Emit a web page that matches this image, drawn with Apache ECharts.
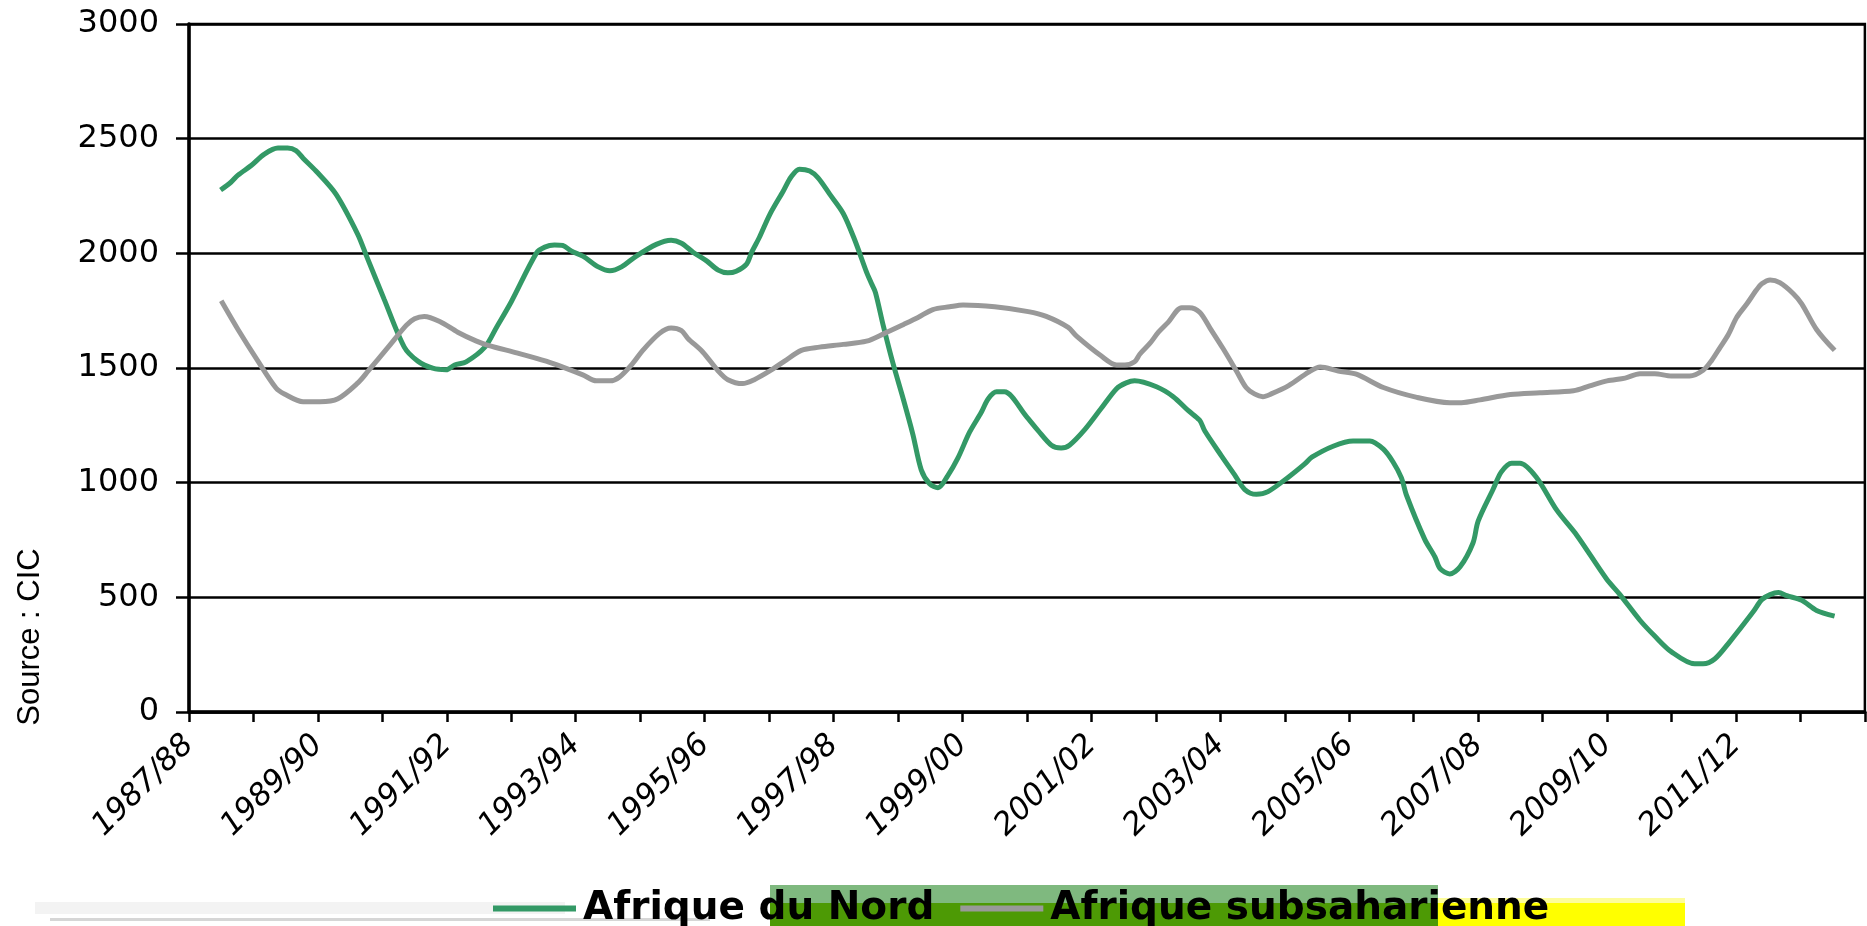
<!DOCTYPE html>
<html>
<head>
<meta charset="utf-8">
<script src="https://cdn.jsdelivr.net/npm/echarts@6/dist/echarts.min.js"></script>
<style>
  html, body { margin: 0; padding: 0; background: #fff; }
  #chart { width: 1867px; height: 926px; }
</style>
</head>
<body>
<div id="chart"></div>
<script>
// x = years since start of 1987/88 season, one tick per season
const tickLabels = ['1987/88', '1989/90', '1991/92', '1993/94', '1995/96', '1997/98', '1999/00',
    '2001/02', '2003/04', '2005/06', '2007/08', '2009/10', '2011/12'];

const nordPoints = [
    [0.49, 2276], [0.65, 2310], [0.76, 2341], [0.97, 2384], [1.17, 2433], [1.38, 2459], [1.53, 2459],
    [1.66, 2448], [1.77, 2415], [1.97, 2359], [2.28, 2258], [2.62, 2082], [2.75, 1991], [3.03, 1798],
    [3.34, 1591], [3.55, 1530], [3.78, 1499], [3.99, 1492], [4.12, 1513], [4.30, 1527], [4.59, 1591],
    [4.77, 1677], [5.0, 1789], [5.39, 2001], [5.52, 2027], [5.67, 2036], [5.80, 2034], [5.93, 2010],
    [6.11, 1988], [6.35, 1941], [6.53, 1924], [6.71, 1941], [6.94, 1988], [7.25, 2039], [7.48, 2057],
    [7.64, 2044], [7.82, 2005], [8.03, 1967], [8.21, 1927], [8.36, 1915], [8.49, 1922], [8.65, 1953],
    [8.73, 2005], [8.85, 2070], [9.01, 2169], [9.22, 2272], [9.34, 2333], [9.47, 2367], [9.63, 2359],
    [9.76, 2329], [9.94, 2258], [10.15, 2174], [10.33, 2057], [10.51, 1919], [10.59, 1867], [10.65, 1829],
    [10.77, 1686], [10.92, 1522], [11.08, 1366], [11.23, 1211], [11.36, 1056], [11.49, 995], [11.62, 978],
    [11.77, 1030], [11.93, 1108], [12.11, 1220], [12.29, 1306], [12.40, 1366], [12.53, 1396], [12.65, 1396],
    [12.99, 1289], [13.17, 1228], [13.38, 1163], [13.53, 1151], [13.66, 1163], [13.90, 1232], [14.15, 1323],
    [14.39, 1410], [14.54, 1435], [14.67, 1444], [15.01, 1418], [15.27, 1375], [15.50, 1315], [15.68, 1272],
    [15.76, 1225], [16.02, 1116], [16.22, 1035], [16.38, 970], [16.56, 949], [16.74, 961], [17.06, 1025],
    [17.31, 1082], [17.42, 1111], [17.75, 1159], [18.06, 1182], [18.32, 1182], [18.53, 1146], [18.68, 1090],
    [18.81, 1021], [18.89, 944], [19.17, 754], [19.33, 676], [19.41, 625], [19.56, 602], [19.72, 633],
    [19.92, 737], [20.0, 832], [20.23, 970], [20.36, 1047], [20.52, 1085], [20.65, 1085], [20.90, 1025],
    [21.22, 880], [21.53, 771], [21.99, 581], [22.20, 512], [22.51, 400], [22.74, 331], [23.0, 262],
    [23.36, 210], [23.49, 210], [23.67, 231], [23.90, 305], [24.27, 438], [24.40, 490], [24.53, 512],
    [24.66, 521], [24.79, 507], [25.02, 487], [25.25, 443], [25.53, 418]
];

const subPoints = [
    [0.50, 1793], [0.76, 1668], [1.07, 1530], [1.35, 1413], [1.48, 1387], [1.77, 1353], [2.03, 1353],
    [2.31, 1366], [2.62, 1435], [2.78, 1487], [3.09, 1591], [3.37, 1686], [3.50, 1715], [3.65, 1725],
    [3.89, 1703], [4.17, 1656], [4.46, 1617], [4.64, 1599], [5.10, 1565], [5.54, 1530], [5.80, 1504],
    [6.11, 1470], [6.32, 1444], [6.53, 1444], [6.68, 1461], [6.89, 1522], [7.04, 1577], [7.30, 1651],
    [7.48, 1674], [7.64, 1663], [7.74, 1629], [7.97, 1570], [8.21, 1487], [8.36, 1449], [8.59, 1432],
    [8.77, 1449], [9.01, 1487], [9.24, 1530], [9.50, 1577], [9.78, 1591], [10.15, 1603], [10.51, 1617],
    [10.79, 1651], [11.08, 1689], [11.31, 1720], [11.54, 1755], [11.80, 1767], [12.01, 1775], [12.50, 1767],
    [13.02, 1746], [13.30, 1725], [13.64, 1677], [13.77, 1639], [14.15, 1553], [14.39, 1513], [14.52, 1513],
    [14.67, 1527], [14.75, 1560], [14.91, 1608], [15.04, 1656], [15.19, 1699], [15.40, 1763], [15.52, 1763],
    [15.68, 1743], [15.84, 1674], [16.04, 1586], [16.25, 1487], [16.40, 1415], [16.53, 1387], [16.66, 1375],
    [16.79, 1387], [17.06, 1423], [17.37, 1482], [17.55, 1504], [17.83, 1487], [18.11, 1473], [18.53, 1415],
    [19.05, 1372], [19.56, 1349], [19.74, 1349], [20.03, 1361], [20.50, 1384], [20.96, 1392], [21.48, 1401],
    [21.73, 1422], [22.0, 1444], [22.28, 1456], [22.51, 1475], [22.74, 1475], [23.0, 1465], [23.28, 1465],
    [23.49, 1490], [23.62, 1532], [23.75, 1588], [23.88, 1645], [24.01, 1720], [24.17, 1780], [24.32, 1841],
    [24.40, 1867], [24.53, 1884], [24.68, 1872], [24.89, 1824], [25.02, 1780], [25.25, 1668], [25.53, 1577]
];

const chart = echarts.init(document.getElementById('chart'));

const option = {
    animation: false,
    color: ['#339966', '#999999'],
    grid: {
        left: 189,
        right: 2,
        top: 24,
        bottom: 214,
        show: true,
        borderColor: '#000',
        borderWidth: 2.5
    },
    legend: {
        left: 488,
        top: 884,
        itemWidth: 83,
        itemHeight: 6,
        itemGap: 26,
        icon: 'rect',
        textStyle: {
            fontFamily: 'DejaVu Sans',
            fontWeight: 'bold',
            fontSize: 39,
            color: '#000',
            padding: [0, 0, 0, 2]
        },
        data: ['Afrique du Nord', 'Afrique subsaharienne'],
        z: 5
    },
    xAxis: {
        type: 'value',
        min: 0,
        max: 26,
        interval: 1,
        splitLine: { show: false },
        axisLine: { show: true, onZero: false, lineStyle: { color: '#000', width: 3.5 } },
        axisTick: { show: true, length: 10, lineStyle: { color: '#000', width: 2.5 } },
        axisLabel: {
            rotate: 45,
            margin: 28,
            fontFamily: 'DejaVu Sans',
            fontStyle: 'italic',
            fontSize: 31,
            color: '#000',
            showMaxLabel: true,
            formatter: function (v) {
                if (v % 2 !== 0) return '';
                return tickLabels[v / 2] || '';
            }
        }
    },
    yAxis: {
        type: 'value',
        min: 0,
        max: 3000,
        interval: 500,
        axisLine: { show: true, lineStyle: { color: '#000', width: 3.5 } },
        axisTick: { show: true, length: 13, lineStyle: { color: '#000', width: 2.5 } },
        splitLine: { show: true, lineStyle: { color: '#000', width: 2.5 } },
        axisLabel: {
            margin: 30,
            fontFamily: 'DejaVu Sans',
            fontSize: 32,
            color: '#000',
            formatter: function (v) { return String(v); }
        }
    },
    graphic: [
        // background blocks behind the legend
        { type: 'rect', z: 0, shape: { x: 770, y: 885, width: 668, height: 18 }, style: { fill: '#7fb97f' } },
        { type: 'rect', z: 0, shape: { x: 770, y: 903, width: 668, height: 23 }, style: { fill: '#4d9a05' } },
        { type: 'rect', z: 0, shape: { x: 1438, y: 898, width: 247, height: 5 }, style: { fill: '#fdfd9a' } },
        { type: 'rect', z: 0, shape: { x: 1438, y: 903, width: 247, height: 23 }, style: { fill: '#ffff00' } },
        { type: 'rect', z: 0, shape: { x: 35, y: 902, width: 530, height: 12 }, style: { fill: '#f3f3f3' } },
        { type: 'rect', z: 0, shape: { x: 50, y: 918, width: 660, height: 3 }, style: { fill: '#d6d6d6' } },
        {
            type: 'text',
            x: 30,
            y: 637,
            rotation: Math.PI / 2,
            style: {
                text: 'Source : CIC',
                fontFamily: 'Liberation Sans',
                fontSize: 31,
                fill: '#000',
                textAlign: 'center',
                textVerticalAlign: 'middle'
            }
        }
    ],
    series: [
        {
            name: 'Afrique du Nord',
            type: 'line',
            smooth: 0.3,
            symbol: 'none',
            lineStyle: { width: 5, color: '#339966' },
            data: nordPoints
        },
        {
            name: 'Afrique subsaharienne',
            type: 'line',
            smooth: 0.3,
            symbol: 'none',
            lineStyle: { width: 5, color: '#999999' },
            data: subPoints
        }
    ]
};

chart.setOption(option);
</script>
</body>
</html>
